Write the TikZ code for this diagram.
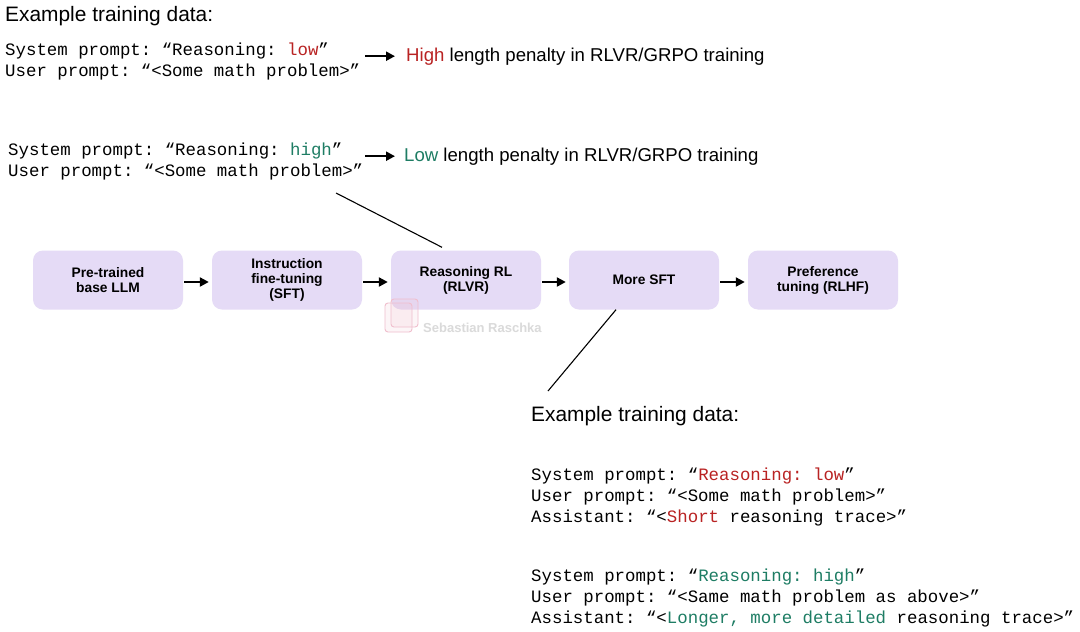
\documentclass[tikz,border=0pt]{standalone}
\usepackage{fontspec}
\setmainfont{Liberation Sans}
\setmonofont{Liberation Mono}
\usetikzlibrary{arrows.meta,calc}
\definecolor{myred}{RGB}{185,35,35}
\definecolor{mygreen}{RGB}{30,125,100}
\definecolor{boxfill}{RGB}{229,219,246}
\definecolor{wmgray}{RGB}{218,218,218}
\definecolor{wmpink}{RGB}{240,190,205}
\begin{document}
\begin{tikzpicture}[x=1pt,y=-1pt,
  mono/.style={anchor=base west, inner sep=0, font=\ttfamily\fontsize{17.4}{21}\selectfont},
  head/.style={anchor=base west, inner sep=0, font=\fontsize{20.9}{25}\selectfont},
  note/.style={anchor=base west, inner sep=0, font=\fontsize{18.6}{22}\selectfont},
  stage/.style={draw=none, fill=boxfill, rounded corners=10, minimum width=150, minimum height=59, align=center, font=\bfseries\fontsize{13.8}{15}\selectfont, inner sep=0},
  flow/.style={-{Triangle[length=9,width=9]}, line width=2.2},
  link/.style={line width=1.1},
  wmtext/.style={anchor=base west, inner sep=0, text=wmgray, font=\bfseries\fontsize{13}{15}\selectfont},
  wmicon/.style={draw=wmpink, line width=0.9, rounded corners=3, fill=wmpink, fill opacity=0.15}]
\fill[white] (0,0) rectangle (1080,632);
\useasboundingbox (0,0) rectangle (1080,632);

% top example block
\node[head] (t1) at (5,21) {Example training data:};
\node[mono] (a1) at (5,55) {System prompt: “Reasoning: \textcolor{myred}{low}”};
\node[mono] (a2) at (5,76) {User prompt: “<Some math problem>”};
\node[note] (n1) at (406,61) {\textcolor{myred}{High} length penalty in RLVR/GRPO training};
\draw[flow] ($(n1.west)+(-41,0)$) -- ($(n1.west)+(-11,0)$);

\node[mono] (b1) at (8,155) {System prompt: “Reasoning: \textcolor{mygreen}{high}”};
\node[mono] (b2) at (8,176) {User prompt: “<Some math problem>”};
\node[note] (n2) at (404,161) {\textcolor{mygreen}{Low} length penalty in RLVR/GRPO training};
\draw[flow] ($(n2.west)+(-39,0)$) -- ($(n2.west)+(-9,0)$);

% pipeline
\node[stage] (s1) at (108,280) {Pre-trained\\base LLM};
\node[stage] (s2) at (287,280) {Instruction\\fine-tuning\\(SFT)};
\node[stage] (s3) at (466,280) {Reasoning RL\\(RLVR)};
\node[stage] (s4) at (644,280) {More SFT};
\node[stage] (s5) at (823,280) {Preference\\tuning (RLHF)};
\draw[flow] ([xshift=1,yshift=-2]s1.east) -- ([xshift=-3,yshift=-2]s2.west);
\draw[flow] ([xshift=1,yshift=-2]s2.east) -- ([xshift=-3,yshift=-2]s3.west);
\draw[flow] ([xshift=1,yshift=-2]s3.east) -- ([xshift=-3,yshift=-2]s4.west);
\draw[flow] ([xshift=1,yshift=-2]s4.east) -- ([xshift=-3,yshift=-2]s5.west);

% watermark
\draw[wmicon] (385,303) rectangle (412,332);
\draw[wmicon] (391,299) rectangle (418,327);
\node[wmtext] (wm) at (423,332) {Sebastian Raschka};

% connectors
\coordinate (c1) at (336,193);
\coordinate (c2) at (548,391);
\draw[link] (c1) -- ([xshift=-24,yshift=3]s3.north);
\draw[link] ([xshift=-28]s4.south) -- (c2);

% bottom example block
\node[head] (t2) at (531,421) {Example training data:};
\node[mono] (d1) at (531,480) {System prompt: “\textcolor{myred}{Reasoning: low}”};
\node[mono] (d2) at (531,501) {User prompt: “<Some math problem>”};
\node[mono] (d3) at (531,522) {Assistant: “<\textcolor{myred}{Short} reasoning trace>”};
\node[mono] (e1) at (531,581) {System prompt: “\textcolor{mygreen}{Reasoning: high}”};
\node[mono] (e2) at (531,602) {User prompt: “<Same math problem as above>”};
\node[mono] (e3) at (531,623) {Assistant: “<\textcolor{mygreen}{Longer, more detailed} reasoning trace>”};
\end{tikzpicture}
\end{document}
